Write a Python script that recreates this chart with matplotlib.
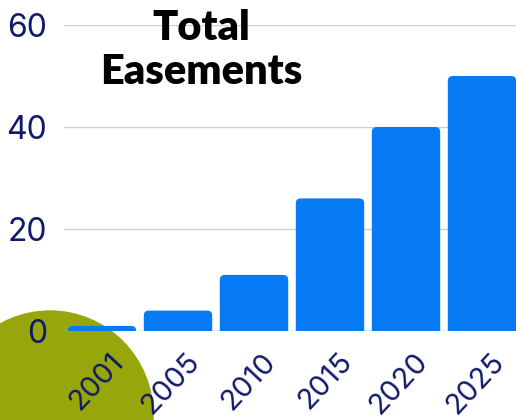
import matplotlib
matplotlib.use("Agg")
import matplotlib.pyplot as plt
from matplotlib.patches import FancyBboxPatch, Ellipse
from matplotlib.transforms import ScaledTranslation

years = ["2001", "2005", "2010", "2015", "2020", "2025"]
easements = [1, 4, 11, 26, 40, 50]
yticks = [0, 20, 40, 60]

BAR = "#077bf6"
NAVY = "#0e1a6b"
OLIVE = "#97a60a"

fig = plt.figure(figsize=(5.16, 4.20), dpi=100)

# decorative blob behind the chart
blob = Ellipse((50 / 516, 5 / 420), 206 / 516, 208 / 420,
               transform=fig.transFigure, color=OLIVE, zorder=-5)
fig.patches.append(blob)

ax = fig.add_axes([64 / 516, 89 / 420, 456 / 516, 306 / 420])
ax.set_zorder(1)
ax.patch.set_alpha(0)

ax.set_xlim(-0.5, len(years) - 0.5)
ax.set_ylim(0, 60)

# rounded top corners: rounding in pixels converted to data units
w = 0.9
px_x = 456 / 6.0
px_y = 306 / 60.0
r = 5 / px_x
for i, v in enumerate(easements):
    p = FancyBboxPatch((i - w / 2, -5), w, v + 5,
                       boxstyle="round,pad=0,rounding_size=%f" % r,
                       mutation_aspect=px_x / px_y,
                       facecolor=BAR, edgecolor="none", zorder=3)
    ax.add_patch(p)

ax.set_yticks(yticks)
ax.set_yticklabels([str(t) for t in yticks], fontsize=23, color=NAVY,
                   family="Inter")
ax.set_xticks(range(len(years)))
ax.set_xticklabels(years, rotation=47, ha="right", va="top",
                   rotation_mode="anchor", fontsize=21, color=NAVY,
                   family="Inter")
ax.tick_params(axis="y", length=0, pad=12)
ax.tick_params(axis="x", length=0, pad=12)
for lbl in ax.get_xticklabels():
    lbl.set_transform(lbl.get_transform() +
                      ScaledTranslation(0.08, 0, fig.dpi_scale_trans))

ax.grid(axis="y", color="#cfcfdc", linewidth=1, zorder=0)
ax.set_axisbelow(True)
for s in ax.spines.values():
    s.set_visible(False)

fig.text(201 / 516, 1 - 50 / 420, "Total\nEasements", ha="center", va="center",
         fontsize=30, fontweight="heavy", family="Lato", color="black",
         linespacing=1.2)

fig.savefig("out.png", dpi=100)
